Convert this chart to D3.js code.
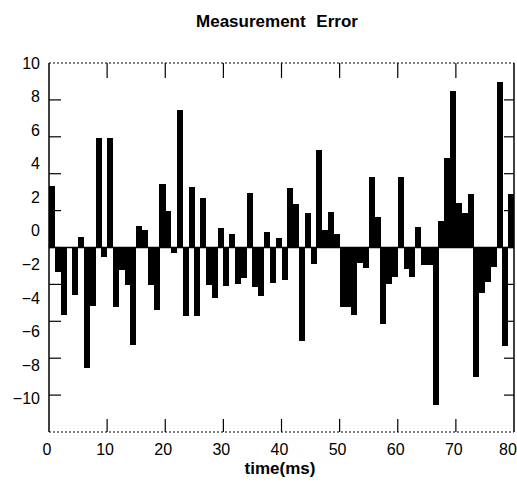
<!DOCTYPE html>
<html>
<head>
<meta charset="utf-8">
<script src="https://cdn.jsdelivr.net/npm/d3@7/dist/d3.min.js"></script>
<style>
  html, body { margin: 0; padding: 0; background: #fff; }
  svg { display: block; }
  text { font-family: "Liberation Sans", Arial, Helvetica, sans-serif; fill: #000; }
</style>
</head>
<body>
<div id="chart"></div>
<script>
// ---- data ----
const title = "Measurement Error";
const xTitle = "time(ms)";
// one value per 1 ms slot, t = 0 .. 79
const errors = [
  2.67, -2.45, -5.03, -1.0, -3.83, -0.39, -8.17, -4.49, 5.51, -1.55,
  5.51, -4.53, -2.34, -3.24, -6.82, 0.30, 0.04, -3.24, -4.73, 2.77,
  1.17, -1.31, 7.20, -5.09, 2.61, -5.09, 1.95, -3.24, -4.03, 0.18,
  -3.30, -0.21, -3.18, -2.84, 2.23, -3.37, -3.89, -0.10, -3.10, -0.42,
  -2.94, 2.53, 1.57, -6.56, 1.07, -1.99, 4.81, 0.04, 1.10, -0.21,
  -4.57, -4.57, -5.03, -1.91, -2.24, 3.22, 0.83, -5.58, -3.18, -2.74,
  3.22, -2.30, -2.74, 0.24, -2.05, -2.05, -10.39, 0.60, 4.35, 8.35,
  1.63, 1.04, 2.19, -8.71, -3.73, -3.04, -2.18, 8.88, -6.88, 2.19
];
const baselineValue = -1;
const xTickValues = [0, 10, 20, 30, 40, 50, 60, 70, 80];
const xInnerTicks = [10, 20, 30, 40, 50, 60, 70];
const yLabelValues = [10, 8, 6, 4, 2, 0, -2, -4, -6, -8, -10];
const yTickMarks = [7.8, 5.6, 3.4, 1.2, -1.0, -3.2, -5.4, -7.6, -9.8];
const xDomain = [0, 80];
const yDomain = [-12, 10];

// ---- layout ----
const W = 517, H = 494;
const m = { left: 49, right: 3, top: 63, bottom: 62 };

const svg = d3.select("#chart").append("svg")
  .attr("width", W).attr("height", H);

const x = d3.scaleLinear().domain(xDomain).range([m.left, W - m.right]);
const y = d3.scaleLinear().domain(yDomain).range([H - m.bottom, m.top]);

// bars
svg.append("g")
  .selectAll("rect")
  .data(errors)
  .join("rect")
  .attr("x", (d, i) => x(i))
  .attr("width", (d, i) => x(i + 1) - x(i) + 0.3)
  .attr("y", d => Math.min(y(d), y(baselineValue)))
  .attr("height", d => Math.abs(y(d) - y(baselineValue)))
  .attr("fill", "#000")
  .attr("shape-rendering", "crispEdges");

// baseline
svg.append("line")
  .attr("x1", x(xDomain[0])).attr("x2", x(xDomain[1]))
  .attr("y1", y(baselineValue)).attr("y2", y(baselineValue))
  .attr("stroke", "#000").attr("stroke-width", 1.5);

// frame: dotted top & bottom, solid left & right
const frame = svg.append("g").attr("stroke", "#000").attr("fill", "none");
frame.append("line")
  .attr("x1", x(0)).attr("x2", x(80)).attr("y1", y(10)).attr("y2", y(10))
  .attr("stroke-width", 1).attr("stroke-dasharray", "2,2");
frame.append("line")
  .attr("x1", x(0)).attr("x2", x(80)).attr("y1", y(-12)).attr("y2", y(-12))
  .attr("stroke-width", 1).attr("stroke-dasharray", "2,2");
frame.append("line")
  .attr("x1", x(0)).attr("x2", x(0)).attr("y1", y(10)).attr("y2", y(-12))
  .attr("stroke-width", 1.5);
frame.append("line")
  .attr("x1", x(80)).attr("x2", x(80)).attr("y1", y(10)).attr("y2", y(-12))
  .attr("stroke-width", 1.5);

// top and bottom ticks (inward)
const tk = svg.append("g").attr("stroke", "#000").attr("stroke-width", 1.2);
tk.selectAll(".tt").data(xInnerTicks).join("line")
  .attr("x1", d => x(d)).attr("x2", d => x(d))
  .attr("y1", y(10)).attr("y2", y(10) + 15);
tk.selectAll(".bt").data(xInnerTicks).join("line")
  .attr("x1", d => x(d)).attr("x2", d => x(d))
  .attr("y1", y(-12)).attr("y2", y(-12) - 13);
// left and right ticks (inward)
tk.selectAll(".lt").data(yTickMarks).join("line")
  .attr("x1", x(0)).attr("x2", x(0) + 12)
  .attr("y1", d => y(d)).attr("y2", d => y(d));
tk.selectAll(".rt").data(yTickMarks).join("line")
  .attr("x1", x(80)).attr("x2", x(80) - 10)
  .attr("y1", d => y(d)).attr("y2", d => y(d));

// y labels
svg.append("g").selectAll("text").data(yLabelValues).join("text")
  .attr("x", 40)
  .attr("y", d => y(d))
  .attr("dy", "0.36em")
  .attr("text-anchor", "end")
  .attr("font-size", 16)
  .text(d => d < 0 ? "\u2212" + Math.abs(d) : String(d));

// x labels
svg.append("g").selectAll("text").data(xTickValues).join("text")
  .attr("x", d => d === 80 ? x(d) - 6 : x(d) - 2)
  .attr("y", 455)
  .attr("text-anchor", "middle")
  .attr("font-size", 16)
  .text(d => d);

// titles
svg.append("text")
  .attr("x", 277).attr("y", 27)
  .attr("text-anchor", "middle")
  .attr("font-size", 17).attr("font-weight", "bold")
  .attr("word-spacing", 6)
  .text(title);

svg.append("text")
  .attr("x", 280).attr("y", 474)
  .attr("text-anchor", "middle")
  .attr("font-size", 17).attr("font-weight", "bold")
  .text(xTitle);
</script>
</body>
</html>
